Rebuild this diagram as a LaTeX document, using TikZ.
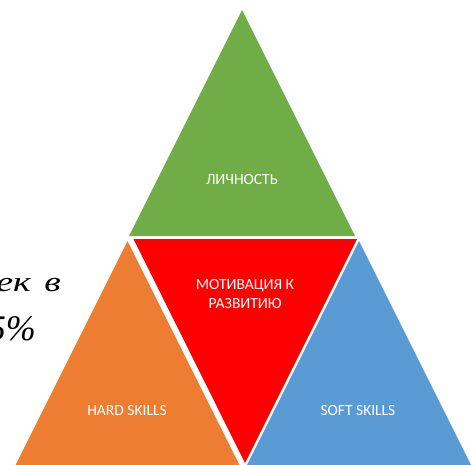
\documentclass[tikz,border=0pt]{standalone}
\usepackage{fontspec}
\setmainfont{Carlito}
\newfontfamily\serifit{Liberation Serif}
\definecolor{pgreen}{HTML}{70AD47}
\definecolor{porange}{HTML}{ED7D31}
\definecolor{pblue}{HTML}{5B9BD5}
\definecolor{pred}{HTML}{FF0000}
\begin{document}
\begin{tikzpicture}[x=1pt,y=-1pt,
  lbl/.style={text=white, font=\fontsize{15.5}{19}\selectfont, align=center, inner sep=0},
  side/.style={anchor=base east, inner sep=0, text=black}]
\useasboundingbox (0,0) rectangle (471,464);
% triangles
\fill[pgreen]  (242,10)    -- (129,236)   -- (355,236) -- cycle;
\fill[pred]    (133.5,239) -- (357,239)   -- (245,463) -- cycle;
\fill[porange] (127.5,241) -- (14.5,467)  -- (240.5,467) -- cycle;
\fill[pblue]   (359,241)   -- (246,467)   -- (472,467) -- cycle;
% labels
\node[lbl] (lichnost) at (242,180) {ЛИЧНОСТЬ};
\node[lbl] (motiv) at (245,294.5) {МОТИВАЦИЯ К\\РАЗВИТИЮ};
\node[lbl] (hard) at (127,411) {HARD SKILLS};
\node[lbl] (soft) at (358,411) {SOFT SKILLS};
% cut-off side text
\node[side, font=\serifit\itshape\fontsize{28}{28}\selectfont] (t1) at (61,291) {\scalebox{1.35}[1]{ек\hspace{3pt} в}};
\node[side, font=\serifit\itshape\fontsize{36}{36}\selectfont] (t2) at (36,340) {5\%};
\end{tikzpicture}
\end{document}
